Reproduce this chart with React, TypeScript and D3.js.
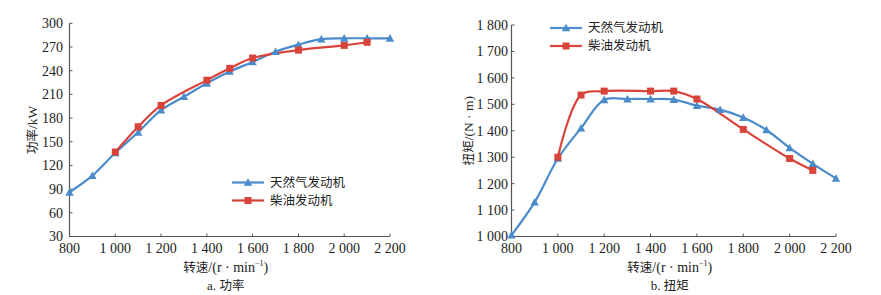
import React from "react";
import * as d3 from "d3";

const speedTicks = [800, 1000, 1200, 1400, 1600, 1800, 2000, 2200];
const powerTicks = [30, 60, 90, 120, 150, 180, 210, 240, 270, 300];
const torqueTicks = [1000, 1100, 1200, 1300, 1400, 1500, 1600, 1700, 1800];

const gasSpeed = [800, 900, 1000, 1100, 1200, 1300, 1400, 1500, 1600, 1700, 1800, 1900, 2000, 2100, 2200];
const gasPower = [86, 107, 136, 162, 190, 207, 224, 239, 251, 264, 273, 280, 281, 281, 281];
const gasTorque = [1005, 1130, 1295, 1410, 1517, 1520, 1520, 1518, 1495, 1480, 1450, 1403, 1335, 1275, 1220];

const dieselSpeed = [1000, 1100, 1200, 1400, 1500, 1600, 1800, 2000, 2100];
const dieselPower = [137, 169, 196, 228, 243, 256, 266, 272, 276];
const dieselTorque = [1300, 1535, 1550, 1550, 1550, 1520, 1405, 1295, 1250];

const seriesNames = ["天然气发动机", "柴油发动机"];
const captions = ["a. 功率", "b. 扭矩"];
const yTitles = ["功率/kW", "扭矩/(N · m)"];

const BLUE = "#4a8ccb";
const RED = "#d9443a";
const AXIS = "#555";
const TEXT = "#222";
const FONT = "'Liberation Serif', 'Times New Roman', serif";
const CJK = "'Noto Sans CJK SC', sans-serif";

const fmt = (v: number) => {
  const s = String(v);
  return s.length > 3 ? s.slice(0, s.length - 3) + " " + s.slice(-3) : s;
};

function Marker({ type, x, y, color }: { type: string; x: number; y: number; color: string }) {
  if (type === "tri") {
    const s = 4.2;
    return <path d={`M${x},${y - s} L${x + s},${y + s * 0.8} L${x - s},${y + s * 0.8} Z`} fill={color} />;
  }
  return <rect x={x - 3.5} y={y - 3.5} width={7} height={7} fill={color} />;
}

function Panel({
  xr, yDomain, yRange, yTicks, gasY, dieselY, legend, yTitle, yTitleX, caption, tickRight,
}: any) {
  const x = d3.scaleLinear().domain([800, 2200]).range(xr);
  const y = d3.scaleLinear().domain(yDomain).range(yRange);
  const line = d3
    .line<[number, number]>()
    .x((d) => x(d[0]))
    .y((d) => y(d[1]))
    .curve(d3.curveCatmullRom.alpha(0.5));
  const gas: [number, number][] = gasSpeed.map((s, i) => [s, gasY[i]]);
  const dsl: [number, number][] = dieselSpeed.map((s, i) => [s, dieselY[i]]);
  const x0 = xr[0];
  const y0 = yRange[0];
  const cx = (xr[0] + xr[1]) / 2;
  const serif = { fontFamily: FONT };
  const cjk = { fontFamily: CJK };
  return (
    <g>
      <line x1={x0} x2={x0} y1={y(yDomain[1])} y2={y0} stroke={AXIS} strokeWidth={1.2} />
      <line x1={x0} x2={xr[1]} y1={y0} y2={y0} stroke={AXIS} strokeWidth={1.2} />
      {yTicks.map((t: number) => (
        <g key={t}>
          <line x1={x0} x2={x0 + 3} y1={y(t)} y2={y(t)} stroke={AXIS} />
          <text x={tickRight} y={y(t)} dy="0.35em" textAnchor="end" fontSize={14} fill={TEXT} style={serif}>
            {fmt(t)}
          </text>
        </g>
      ))}
      {speedTicks.map((t) => (
        <g key={t}>
          <line x1={x(t)} x2={x(t)} y1={y0} y2={y0 - 3} stroke={AXIS} />
          <text x={x(t)} y={253} textAnchor="middle" fontSize={14} fill={TEXT} style={serif}>
            {fmt(t)}
          </text>
        </g>
      ))}
      <text x={cx - 4} y={272} textAnchor="middle" fontSize={14} fill={TEXT} style={serif}>
        <tspan style={cjk} fontSize={12.5}>转速</tspan>
        <tspan>/(r · min</tspan>
        <tspan fontSize={8} dy={-6}>−1</tspan>
        <tspan dy={6}>)</tspan>
      </text>
      <text x={cx - 4} y={290} textAnchor="middle" fontSize={13} fill={TEXT} style={serif}>
        <tspan>{caption.slice(0, 3)}</tspan>
        <tspan style={cjk} fontSize={12.5}>{caption.slice(3)}</tspan>
      </text>
      <text
        transform={`translate(${yTitleX},${(yRange[0] + yRange[1]) / 2}) rotate(-90)`}
        textAnchor="middle"
        dy="0.35em"
        fontSize={13.5}
        fill={TEXT}
        style={serif}
      >
        <tspan style={cjk} fontSize={12.5}>{yTitle.slice(0, 2)}</tspan>
        <tspan>{yTitle.slice(2)}</tspan>
      </text>
      <path d={line(gas) || ""} fill="none" stroke={BLUE} strokeWidth={2.2} />
      <path d={line(dsl) || ""} fill="none" stroke={RED} strokeWidth={2.2} />
      {gas.map((d, i) => (
        <Marker key={"g" + i} type="tri" x={x(d[0])} y={y(d[1])} color={BLUE} />
      ))}
      {dsl.map((d, i) => (
        <Marker key={"d" + i} type="sq" x={x(d[0])} y={y(d[1])} color={RED} />
      ))}
      {[0, 1].map((i) => {
        const ly = legend.y + i * legend.gap;
        const color = i === 0 ? BLUE : RED;
        return (
          <g key={i}>
            <line x1={legend.x} x2={legend.x + 32} y1={ly} y2={ly} stroke={color} strokeWidth={2.2} />
            <Marker type={i === 0 ? "tri" : "sq"} x={legend.x + 16} y={ly} color={color} />
            <text x={legend.x + 38} y={ly} dy="0.35em" fontSize={12.5} fill={TEXT} style={cjk}>
              {seriesNames[i]}
            </text>
          </g>
        );
      })}
    </g>
  );
}

export default function App() {
  return (
    <svg width={881} height={295} style={{ position: "absolute", left: 0, top: 0, background: "#fff" }}>
      <rect width={881} height={295} fill="#fff" />
      <Panel
        xr={[69.5, 390]}
        yDomain={[30, 300]}
        yRange={[236.5, 23.3]}
        yTicks={powerTicks}
        gasY={gasPower}
        dieselY={dieselPower}
        legend={{ x: 232, y: 182.5, gap: 18 }}
        yTitle={yTitles[0]}
        yTitleX={32}
        caption={captions[0]}
        tickRight={63}
      />
      <Panel
        xr={[511.5, 836]}
        yDomain={[1000, 1800]}
        yRange={[236.5, 25]}
        yTicks={torqueTicks}
        gasY={gasTorque}
        dieselY={dieselTorque}
        legend={{ x: 550, y: 28, gap: 18 }}
        yTitle={yTitles[1]}
        yTitleX={468}
        caption={captions[1]}
        tickRight={508}
      />
    </svg>
  );
}
